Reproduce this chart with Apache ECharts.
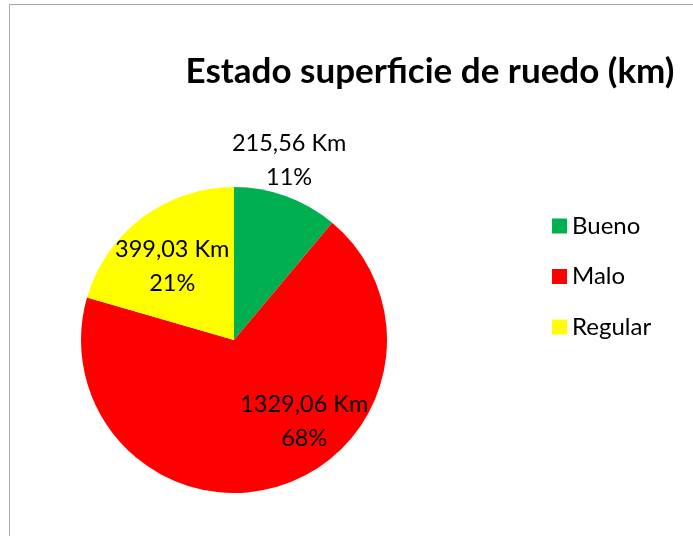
<!DOCTYPE html>
<html>
<head>
<meta charset="utf-8">
<script src="https://cdn.jsdelivr.net/npm/echarts@6/dist/echarts.min.js"></script>
<style>
  html, body { margin: 0; padding: 0; background: #fff; overflow: hidden; }
  #chart { width: 693px; height: 536px; position: absolute; left: 0; top: 0; }
  #frame { position: absolute; left: 9px; top: 4px; width: 720px; height: 560px; border: 1px solid #a6a6a6; }
</style>
</head>
<body>
<div id="frame"></div>
<div id="chart"></div>
<script>
var categories = ['Bueno', 'Malo', 'Regular'];
var values = [215.56, 1329.06, 399.03];
var colors = ['#00b050', '#ff0000', '#ffff00'];

// label nudges, like Excel "best fit"
var labelShift = [[28, -105], [47, 5], [-14, -10]];

var font = 'Lato, "Open Sans", sans-serif';

var data = [];
for (var i = 0; i < categories.length; i++) {
  data.push({ name: categories[i], value: values[i], itemStyle: { color: colors[i] } });
}

var option = {
  animation: false,
  title: {
    text: 'Estado superficie de ruedo (km)',
    left: 425,
    top: 49,
    textAlign: 'center',
    textStyle: { fontFamily: font, fontWeight: 'bold', fontSize: 35, color: '#000' }
  },
  legend: {
    orient: 'vertical',
    left: 547,
    top: 209,
    itemWidth: 15,
    itemHeight: 15,
    itemGap: 26.5,
    icon: 'rect',
    textStyle: { fontFamily: font, fontSize: 24, color: '#000' },
    data: categories
  },
  series: [{
    type: 'pie',
    center: [234, 340],
    radius: 153,
    startAngle: 90,
    clockwise: true,
    data: data,
    label: {
      position: 'inside',
      fontFamily: font,
      fontSize: 23.5,
      lineHeight: 34,
      color: '#000',
      formatter: function (p) {
        return p.value.toFixed(2).replace('.', ',') + ' Km\n' + Math.round(p.percent) + '%';
      }
    },
    labelLine: { show: false },
    labelLayout: function (p) {
      var s = labelShift[p.dataIndex];
      return { dx: s[0], dy: s[1] };
    },
    emphasis: { disabled: true }
  }]
};

var myChart = echarts.init(document.getElementById('chart'));
myChart.setOption(option);
</script>
</body>
</html>
